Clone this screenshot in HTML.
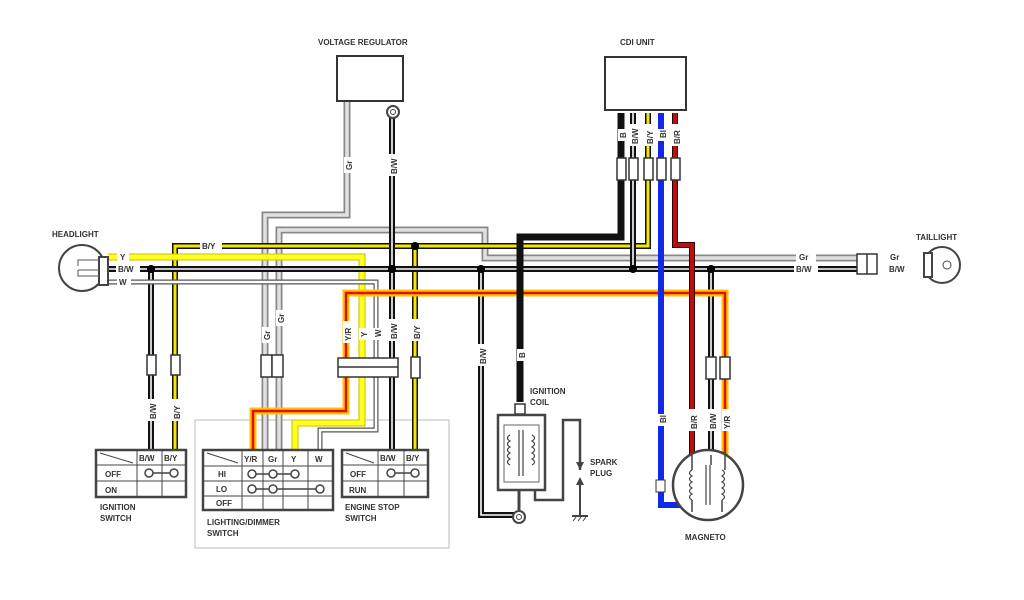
<!DOCTYPE html>
<html><head><meta charset="utf-8"><style>
html,body{margin:0;padding:0;background:#fff;width:1024px;height:600px;overflow:hidden}
svg{display:block}
text{font-family:"Liberation Sans",sans-serif;font-weight:bold;fill:#333;font-size:8px}
.o{fill:none;stroke-linejoin:miter;stroke-linecap:butt}
</style></head><body>
<svg width="1024" height="600" viewBox="0 0 1024 600">
<defs>
<style>
.bo{stroke:#111;stroke-width:6}
.bwi{stroke:#fff;stroke-width:1.6}
.byi{stroke:#f4e800;stroke-width:3}
.yo{stroke:#c8c000;stroke-width:7}
.yi{stroke:#ffff20;stroke-width:5}
.go{stroke:#888;stroke-width:7}
.gi{stroke:#e2e2e2;stroke-width:3.5}
.wo{stroke:#555;stroke-width:5}
.wi{stroke:#fff;stroke-width:2.6}
.ro{stroke:#ffc000;stroke-width:7}
.ri{stroke:#e01000;stroke-width:2.5}
.bl{stroke:#1028e8;stroke-width:6}
.bro{stroke:#300;stroke-width:6}
.bri{stroke:#b81010;stroke-width:4}
</style>
</defs>

<!-- dashed region -->
<rect x="195" y="420" width="254" height="128" fill="none" stroke="#bbb" stroke-width="1"/>

<!-- Gr wires -->
<path class="o go" d="M347 100 V215 H265 V450"/>
<path class="o gi" d="M347 100 V215 H265 V450"/>
<path class="o go" d="M279 450 V230 H485 V258 H858"/>
<path class="o gi" d="M279 450 V230 H485 V258 H858"/>

<!-- B/Y -->
<path class="o bo" d="M175 450 V246 H648 V113"/>
<path class="o byi" d="M175 450 V246 H648 V113"/>
<path class="o bo" d="M415 246 V450"/>
<path class="o byi" d="M415 246 V450"/>

<!-- Y -->
<path class="o yo" d="M108 257 H362 V423 H295 V450"/>
<path class="o yi" d="M108 257 H362 V423 H295 V450"/>

<!-- B/W main -->
<path class="o bo" d="M108 269 H858"/>
<path class="o bwi" d="M108 269 H858"/>
<path class="o bo" d="M151 269 V450"/><path class="o bwi" d="M151 269 V450"/>
<path class="o bo" d="M392 118 V450"/><path class="o bwi" d="M392 118 V450"/>
<path class="o bo" d="M481 269 V515 H514"/><path class="o bwi" d="M481 269 V515 H514"/>
<path class="o bo" d="M633 269 V113"/><path class="o bwi" d="M633 269 V113"/>
<path class="o bo" d="M711 269 V455"/><path class="o bwi" d="M711 269 V455"/>

<!-- W -->
<path class="o wo" d="M108 282 H376 V430 H320 V450"/>
<path class="o wi" d="M108 282 H376 V430 H320 V450"/>

<!-- Y/R -->
<path class="o ro" d="M725 455 V293 H346 V411 H253 V450"/>
<path class="o ri" d="M725 455 V293 H346 V411 H253 V450"/>

<!-- CDI B -->
<path class="o" stroke="#111" stroke-width="7" d="M621 113 V237 H520 V402"/>
<!-- Bl -->
<path class="o bl" d="M661 113 V505 H682"/>
<!-- B/R -->
<path class="o bro" d="M675 113 V245 H692 V455"/>
<path class="o bri" d="M675 113 V245 H692 V455"/>

<!-- dots -->
<g fill="#000">
<circle cx="151" cy="269" r="4"/><circle cx="392" cy="269" r="4"/><circle cx="415" cy="246" r="4"/>
<circle cx="481" cy="269" r="4"/><circle cx="633" cy="269" r="4"/><circle cx="711" cy="269" r="4"/>
</g>

<!-- connectors -->
<g fill="#fff" stroke="#333" stroke-width="1.5">
<rect x="147" y="355" width="9" height="20"/><rect x="171" y="355" width="9" height="20"/>
<rect x="261" y="355" width="11" height="22"/><rect x="272" y="355" width="11" height="22"/>
<rect x="338" y="358" width="60" height="19"/><line x1="338" y1="367" x2="398" y2="367"/>
<rect x="411" y="357" width="9" height="21"/>
<rect x="617" y="158" width="9" height="22"/><rect x="629" y="158" width="9" height="22"/><rect x="644" y="158" width="9" height="22"/><rect x="657" y="158" width="9" height="22"/><rect x="671" y="158" width="9" height="22"/>
<rect x="706" y="357" width="10" height="22"/><rect x="720" y="357" width="10" height="22"/>
<rect x="857" y="254" width="20" height="20"/><line x1="867" y1="254" x2="867" y2="274"/>
</g>

<!-- wire labels -->
<g>
<rect x="200" y="241" width="22" height="10" fill="#fff"/><text x="202" y="249">B/Y</text>
<rect x="117" y="252" width="12" height="10" fill="#fff"/><text x="120" y="260">Y</text>
<rect x="116" y="264" width="24" height="10" fill="#fff"/><text x="118" y="272">B/W</text>
<rect x="117" y="277" width="14" height="10" fill="#fff"/><text x="119" y="285">W</text>
<rect x="796" y="252" width="20" height="10" fill="#fff"/><text x="799" y="260">Gr</text>
<rect x="794" y="264" width="24" height="10" fill="#fff"/><text x="796" y="272">B/W</text>
<rect x="887" y="252" width="18" height="10" fill="#fff"/><text x="890" y="260">Gr</text>
<rect x="887" y="264" width="24" height="10" fill="#fff"/><text x="889" y="272">B/W</text>
</g>
<g font-size="7">
<g transform="translate(350,165) rotate(-90)"><rect x="-8" y="-6" width="16" height="9" fill="#fff"/><text x="-5" y="2">Gr</text></g>
<g transform="translate(395,165) rotate(-90)"><rect x="-11" y="-6" width="22" height="9" fill="#fff"/><text x="-9" y="2">B/W</text></g>
<g transform="translate(154,410) rotate(-90)"><rect x="-11" y="-6" width="22" height="9" fill="#fff"/><text x="-9" y="2">B/W</text></g>
<g transform="translate(178,410) rotate(-90)"><rect x="-11" y="-6" width="22" height="9" fill="#fff"/><text x="-9" y="2">B/Y</text></g>
<g transform="translate(268,335) rotate(-90)"><rect x="-8" y="-6" width="16" height="9" fill="#fff"/><text x="-5" y="2">Gr</text></g>
<g transform="translate(282,318) rotate(-90)"><rect x="-8" y="-6" width="16" height="9" fill="#fff"/><text x="-5" y="2">Gr</text></g>
<g transform="translate(349,332) rotate(-90)"><rect x="-11" y="-6" width="22" height="9" fill="#fff"/><text x="-9" y="2">Y/R</text></g>
<g transform="translate(365,334) rotate(-90)"><rect x="-6" y="-6" width="12" height="9" fill="#fff"/><text x="-3" y="2">Y</text></g>
<g transform="translate(379,334) rotate(-90)"><rect x="-6" y="-6" width="12" height="9" fill="#fff"/><text x="-3" y="2">W</text></g>
<g transform="translate(395,330) rotate(-90)"><rect x="-11" y="-6" width="22" height="9" fill="#fff"/><text x="-9" y="2">B/W</text></g>
<g transform="translate(418,330) rotate(-90)"><rect x="-11" y="-6" width="22" height="9" fill="#fff"/><text x="-9" y="2">B/Y</text></g>
<g transform="translate(484,355) rotate(-90)"><rect x="-11" y="-6" width="22" height="9" fill="#fff"/><text x="-9" y="2">B/W</text></g>
<g transform="translate(523,355) rotate(-90)"><rect x="-6" y="-6" width="12" height="9" fill="#fff"/><text x="-3" y="2">B</text></g>
<g transform="translate(624,135) rotate(-90)"><rect x="-6" y="-6" width="12" height="9" fill="#fff"/><text x="-3" y="2">B</text></g>
<g transform="translate(636,135) rotate(-90)"><rect x="-11" y="-6" width="22" height="9" fill="#fff"/><text x="-9" y="2">B/W</text></g>
<g transform="translate(651,135) rotate(-90)"><rect x="-11" y="-6" width="22" height="9" fill="#fff"/><text x="-9" y="2">B/Y</text></g>
<g transform="translate(664,135) rotate(-90)"><rect x="-6" y="-6" width="12" height="9" fill="#fff"/><text x="-3" y="2">Bl</text></g>
<g transform="translate(678,135) rotate(-90)"><rect x="-11" y="-6" width="22" height="9" fill="#fff"/><text x="-9" y="2">B/R</text></g>
<g transform="translate(664,420) rotate(-90)"><rect x="-6" y="-6" width="12" height="9" fill="#fff"/><text x="-3" y="2">Bl</text></g>
<g transform="translate(695,420) rotate(-90)"><rect x="-11" y="-6" width="22" height="9" fill="#fff"/><text x="-9" y="2">B/R</text></g>
<g transform="translate(714,420) rotate(-90)"><rect x="-11" y="-6" width="22" height="9" fill="#fff"/><text x="-9" y="2">B/W</text></g>
<g transform="translate(728,420) rotate(-90)"><rect x="-11" y="-6" width="22" height="9" fill="#fff"/><text x="-9" y="2">Y/R</text></g>
</g>

<!-- Voltage regulator -->
<text x="318" y="45">VOLTAGE REGULATOR</text>
<rect x="337" y="56" width="66" height="45" fill="#fff" stroke="#333" stroke-width="2"/>
<circle cx="393" cy="112" r="6" fill="#fff" stroke="#444" stroke-width="2"/><circle cx="393" cy="112" r="2.5" fill="none" stroke="#444"/>

<!-- CDI -->
<text x="620" y="45">CDI UNIT</text>
<rect x="605" y="57" width="81" height="53" fill="#fff" stroke="#333" stroke-width="2"/>

<!-- Headlight -->
<text x="52" y="237">HEADLIGHT</text>
<circle cx="82" cy="268" r="23" fill="#fff" stroke="#444" stroke-width="2"/>
<rect x="99" y="257" width="9" height="28" fill="#fff" stroke="#444" stroke-width="2"/>
<path d="M99 260 H78 V266 M99 270 H78 M99 276 H78 V270" fill="none" stroke="#555"/>

<!-- Taillight -->
<text x="916" y="240">TAILLIGHT</text>
<circle cx="942" cy="265" r="18" fill="#fff" stroke="#444" stroke-width="2"/>
<rect x="924" y="253" width="8" height="24" fill="#fff" stroke="#444" stroke-width="2"/>
<circle cx="947" cy="265" r="4" fill="none" stroke="#444"/>

<!-- Ignition coil -->
<text x="530" y="394">IGNITION</text><text x="530" y="405">COIL</text>
<rect x="515" y="404" width="10" height="10" fill="#fff" stroke="#333" stroke-width="1.5"/>
<rect x="498" y="415" width="47" height="75" fill="none" stroke="#444" stroke-width="2.5"/>
<rect x="504" y="425" width="35" height="57" fill="none" stroke="#666" stroke-width="1"/>
<path d="M510 435 q-5 3 0 6 q-5 3 0 6 q-5 3 0 6 q-5 3 0 6 q-5 3 0 6 M532 435 q5 3 0 6 q5 3 0 6 q5 3 0 6 q5 3 0 6 q5 3 0 6 M519 430 V476 M523 430 V476" fill="none" stroke="#444" stroke-width="1.2"/>
<line x1="519" y1="490" x2="519" y2="510" stroke="#444" stroke-width="3"/>
<circle cx="519" cy="517" r="6" fill="#fff" stroke="#444" stroke-width="2"/><circle cx="519" cy="517" r="2.5" fill="none" stroke="#444"/>
<path d="M535 490 V500 H563 V420 H580 V470" fill="none" stroke="#444" stroke-width="2.5"/>
<path d="M576 462 L580 470 L584 462 Z M576 485 L580 477 L584 485 Z" fill="#444"/>
<path d="M580 485 V515 M572 516 H588" fill="none" stroke="#444" stroke-width="2"/>
<path d="M573 521 l3 -4 M578 521 l3 -4 M583 521 l3 -4" stroke="#444"/>
<text x="590" y="465">SPARK</text><text x="590" y="476">PLUG</text>

<!-- Magneto -->
<circle cx="708" cy="485" r="35" fill="#fff" stroke="#444" stroke-width="2.5"/>
<path d="M692 470 q-5 3 0 6 q-5 3 0 6 q-5 3 0 6 q-5 3 0 6 q-5 3 0 6 M722 470 q5 3 0 6 q5 3 0 6 q5 3 0 6 q5 3 0 6 q5 3 0 6 M706 465 V505 M710 465 V505" fill="none" stroke="#444" stroke-width="1.2"/>
<path d="M692 455 V470 M711 455 V465 M725 455 V470 M692 500 V512 M722 500 V512" fill="none" stroke="#444" stroke-width="1.5"/>
<rect x="656" y="480" width="9" height="12" fill="#fff" stroke="#333"/>
<text x="685" y="540">MAGNETO</text>

<!-- Ignition switch -->
<g stroke="#444" fill="none">
<rect x="96" y="450" width="90" height="47" stroke-width="2.5"/>
<path d="M96 465 H186 M96 481 H186 M137 450 V497 M162 450 V497" stroke-width="1"/>
<line x1="100" y1="453" x2="133" y2="463"/>
<circle cx="149" cy="473" r="4" fill="#fff" stroke-width="1.5"/><circle cx="174" cy="473" r="4" fill="#fff" stroke-width="1.5"/><line x1="153" y1="473" x2="170" y2="473" stroke-width="1.5"/>
</g>
<text x="139" y="461">B/W</text><text x="164" y="461">B/Y</text>
<text x="105" y="477">OFF</text><text x="105" y="493">ON</text>
<text x="100" y="510">IGNITION</text><text x="100" y="521">SWITCH</text>

<!-- Dimmer switch -->
<g stroke="#444" fill="none">
<rect x="203" y="450" width="130" height="60" stroke-width="2.5"/>
<path d="M203 466 H333 M203 481 H333 M203 496 H333 M242 450 V510 M263 450 V510 M283 450 V510 M308 450 V510" stroke-width="1"/>
<line x1="207" y1="453" x2="238" y2="463"/>
<g fill="#fff" stroke-width="1.5">
<circle cx="252" cy="474" r="4"/><circle cx="273" cy="474" r="4"/><circle cx="295" cy="474" r="4"/>
<circle cx="252" cy="489" r="4"/><circle cx="273" cy="489" r="4"/><circle cx="320" cy="489" r="4"/>
</g>
<path d="M256 474 H269 M277 474 H291 M256 489 H269 M277 489 H316" stroke-width="1.5"/>
</g>
<text x="244" y="462">Y/R</text><text x="268" y="462">Gr</text><text x="291" y="462">Y</text><text x="315" y="462">W</text>
<text x="218" y="477">HI</text><text x="216" y="492">LO</text><text x="216" y="506">OFF</text>
<text x="207" y="525">LIGHTING/DIMMER</text><text x="207" y="536">SWITCH</text>

<!-- Engine stop switch -->
<g stroke="#444" fill="none">
<rect x="342" y="450" width="86" height="47" stroke-width="2.5"/>
<path d="M342 465 H428 M342 481 H428 M378 450 V497 M404 450 V497" stroke-width="1"/>
<line x1="346" y1="453" x2="374" y2="463"/>
<circle cx="391" cy="473" r="4" fill="#fff" stroke-width="1.5"/><circle cx="415" cy="473" r="4" fill="#fff" stroke-width="1.5"/><line x1="395" y1="473" x2="411" y2="473" stroke-width="1.5"/>
</g>
<text x="380" y="461">B/W</text><text x="406" y="461">B/Y</text>
<text x="350" y="477">OFF</text><text x="349" y="493">RUN</text>
<text x="345" y="510">ENGINE STOP</text><text x="345" y="521">SWITCH</text>
</svg>
</body></html>
